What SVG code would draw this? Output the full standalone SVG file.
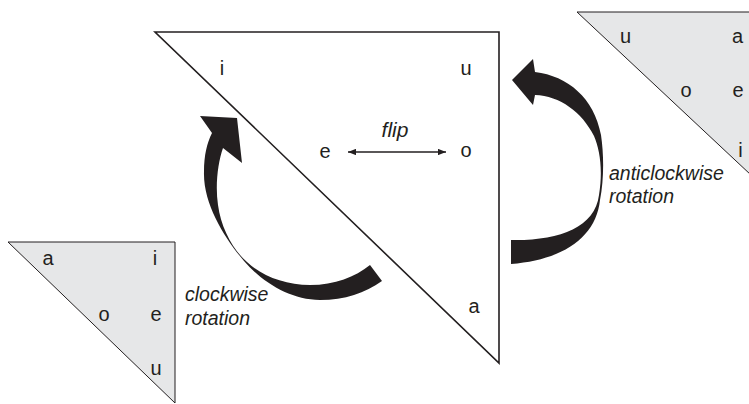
<svg xmlns="http://www.w3.org/2000/svg" width="749" height="404" viewBox="0 0 749 404">
<defs>
<style>
.t{font-family:"Liberation Sans",Arial,sans-serif;font-size:20px;fill:#231f20;text-anchor:middle}
.it{font-family:"Liberation Sans",Arial,sans-serif;font-size:19.5px;font-style:italic;fill:#231f20}
.main{fill:#fff;stroke:#231f20;stroke-width:1.6}
.small{fill:#e6e7e8;stroke:#231f20;stroke-width:1}
.arr{fill:#231f20;stroke:none}
</style>
<marker id="ah" viewBox="0 0 10 8" refX="10" refY="4" markerWidth="8" markerHeight="6.4" markerUnits="userSpaceOnUse" orient="auto-start-reverse">
<path d="M0,0 L10,4 L0,8 Z" fill="#231f20"/>
</marker>
</defs>
<rect width="749" height="404" fill="#fff"/>

<g id="triangle-main">
<polygon class="main" points="155,32 499,32 499,363"/>
<text class="t" x="222" y="75">i</text>
<text class="t" x="466" y="75">u</text>
<text class="t" x="325" y="158">e</text>
<text class="t" x="466" y="157">o</text>
<text class="t" x="474" y="313">a</text>
</g>

<g id="triangle-anticlockwise">
<polygon class="small" points="577,12 751,12 751,175"/>
<text class="t" x="625.5" y="43">u</text>
<text class="t" x="737.5" y="43">a</text>
<text class="t" x="686" y="97">o</text>
<text class="t" x="738" y="97">e</text>
<text class="t" x="740.5" y="157">i</text>
</g>

<g id="triangle-clockwise">
<polygon class="small" points="8,242 175,242 175,403"/>
<text class="t" x="48" y="265">a</text>
<text class="t" x="155" y="265">i</text>
<text class="t" x="104" y="321">o</text>
<text class="t" x="156" y="321">e</text>
<text class="t" x="156" y="375">u</text>
</g>

<g id="connectors">
<path id="arrow-clockwise" class="arr" d="M237,118 L200,116 L212,133 C207,143 204,155 204,172 C203,205 226,240 244,261 C262,282 290,300 320,300 C345,300 365,293 382,281 L370,265 C355,277 335,285 310,285 C285,285 262,276 247,262 C233,250 221,228 218,205 C215,185 218,162 223,148 L242,163 Z"/>
<path id="arrow-anticlockwise" class="arr" d="M512,80 L533,59 L535,72 C568,76 594,98 601,135 C604,155 604,180 600,200 C596,238 562,260 511,264 L511,240 C558,241 595,228 599,195 C603,170 600,150 594,136 C582,112 560,96 535,95 L533,105 Z"/>
<line id="flip-arrow" x1="348" y1="152" x2="446" y2="152" stroke="#231f20" stroke-width="1.5" marker-start="url(#ah)" marker-end="url(#ah)"/>
<text class="it" x="395" y="137" text-anchor="middle" style="font-size:21px">flip</text>
<text class="it" x="185" y="301">clockwise</text>
<text class="it" x="185" y="325">rotation</text>
<text class="it" x="609" y="180">anticlockwise</text>
<text class="it" x="609" y="203">rotation</text>
</g>
</svg>
